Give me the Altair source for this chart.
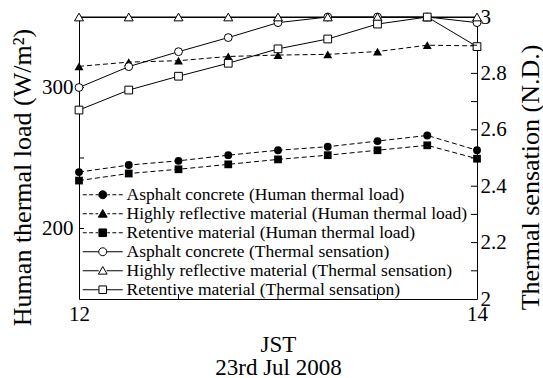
import altair as alt
import pandas as pd

# ---------------- data ----------------
times = [12.0, 12.25, 12.5, 12.75, 13.0, 13.25, 13.5, 13.75, 14.0]
materials = ["Asphalt concrete", "Highly reflective material", "Retentive material"]
marker_shapes = ["circle", "triangle-up", "square"]
marker_sizes = [62, 80, 60]

load_asphalt = [240, 245, 248, 252, 255.5, 258, 262, 266, 255.5]
load_reflective = [315, 318, 319, 322, 323, 323.5, 325.5, 330, 329.5]
load_retentive = [234, 239, 242, 245.5, 249, 252, 255.5, 259, 249.5]

sens_asphalt = [2.75, 2.824, 2.877, 2.927, 2.98, 3.0, 3.0, 3.0, 2.98]
sens_reflective = [3.0, 3.0, 3.0, 3.0, 3.0, 3.0, 3.0, 3.0, 3.0]
sens_retentive = [2.67, 2.741, 2.79, 2.836, 2.887, 2.922, 2.975, 3.0, 2.895]

x_label_values = [12, 13, 14]
left_label_values = [200, 300]
right_label_values = [2.0, 2.2, 2.4, 2.6, 2.8, 3.0]
bottom_tick_values = [12.5, 13.0, 13.5]
left_tick_values = [200, 250, 300]
right_tick_values = [2.1, 2.2, 2.3, 2.4, 2.5, 2.6, 2.7, 2.8, 2.9]

legend_labels = [
    "Asphalt concrete (Human thermal load)",
    "Highly reflective material (Human thermal load)",
    "Retentive material (Human thermal load)",
    "Asphalt concrete (Thermal sensation)",
    "Highly reflective material (Thermal sensation)",
    "Retentive material (Thermal sensation)",
]
legend_fills = ["black", "black", "black", "white", "white", "white"]
legend_strokes = ["black"] * 6

# ---------------- layout / style ----------------
W, H = 398, 282
FONT = "Liberation Serif"
TICK = 5

load_series = [load_asphalt, load_reflective, load_retentive]
sens_series = [sens_asphalt, sens_reflective, sens_retentive]

load_df = pd.DataFrame([
    {"time": t, "value": v, "material": m}
    for m, vals in zip(materials, load_series) for t, v in zip(times, vals)
])
sens_df = pd.DataFrame([
    {"time": t, "value": v, "material": m}
    for m, vals in zip(materials, sens_series) for t, v in zip(times, vals)
])

# legend symbol paths: dashed/solid line + marker (unit scale = sqrt(size)/2)
dash = "M-5,0H-4M-3.4,0H-2.4M-1.8,0H-1.15M1.15,0H1.8M2.4,0H3.4M4,0H5"
solid = "M-5,0H-1M1,0H5"
circ = "M-1,0A1,1 0 1,0 1,0A1,1 0 1,0 -1,0Z"
tri = "M0,-1.05L1.1,0.85L-1.1,0.85Z"
sq = "M-0.95,-0.95H0.95V0.95H-0.95Z"
legend_paths = [dash + circ, dash + tri, dash + sq, solid + circ, solid + tri, solid + sq]

legend_df = pd.concat([
    load_df.assign(label=load_df["material"] + " (Human thermal load)"),
    load_df.assign(label=load_df["material"] + " (Thermal sensation)"),
])

x_enc = alt.X(
    "time:Q",
    scale=alt.Scale(domain=[12, 14], nice=False, zero=False),
    axis=alt.Axis(
        values=x_label_values, format="d", labelFlush=False,
        ticks=False, tickSize=0, domain=False, labelPadding=4,
        title=["JST", "23rd Jul 2008"], titleFontSize=23, titleLineHeight=23,
        titleBaseline="top", titleX=W / 2, titleY=34,
    ),
)
y_left = alt.Y(
    "value:Q",
    scale=alt.Scale(domain=[150, 350], nice=False, zero=False),
    axis=alt.Axis(
        values=left_label_values, ticks=False, tickSize=0, domain=False,
        labelPadding=6, title="Human thermal load (W/m²)", titleFontSize=26,
        titleAngle=270, titleAlign="center", titleBaseline="middle",
        titleX=-57, titleY=160,
    ),
)
y_right = alt.Y(
    "value:Q",
    scale=alt.Scale(domain=[2, 3], nice=False, zero=False),
    axis=alt.Axis(
        orient="right", values=right_label_values, format="~g", ticks=False,
        tickSize=0, domain=False, labelPadding=3,
        title="Thermal sensation (N.D.)", titleFontSize=26,
        titleAngle=270, titleAlign="center", titleBaseline="middle",
        titleX=53, titleY=160,
    ),
)

# left group (human thermal load)
left_layers = [
    alt.Chart(load_df).mark_line(color="black", strokeWidth=1, strokeDash=[5, 3])
    .encode(x=x_enc, y=y_left, detail="material:N")
]
for m, shp, sz in zip(materials, marker_shapes, marker_sizes):
    left_layers.append(
        alt.Chart(load_df[load_df["material"] == m])
        .mark_point(shape=shp, size=sz, filled=True, color="black", opacity=1)
        .encode(x=x_enc, y=y_left)
    )
left_layers.append(
    alt.Chart(pd.DataFrame({"value": left_tick_values}))
    .mark_rule(color="black", strokeWidth=1)
    .encode(y=y_left, x=alt.value(0), x2=alt.value(TICK))
)
left_layers.append(
    alt.Chart(pd.DataFrame({"time": bottom_tick_values}))
    .mark_rule(color="black", strokeWidth=1)
    .encode(x=x_enc, y=alt.value(H), y2=alt.value(H - TICK))
)
leg = alt.Legend(
    title=None, orient="none", legendX=15, legendY=169, padding=0,
    symbolSize=64, symbolStrokeColor="black", symbolStrokeWidth=1,
    symbolOpacity=1,
    labelFont=FONT, labelFontSize=17.5, labelColor="black", labelLimit=500,
    labelOffset=15, rowPadding=0,
)
# legend-only layer: rows filtered out, entries come from the scale domain
left_layers.append(
    alt.Chart(legend_df)
    .transform_filter("false")
    .mark_point(color="black", stroke="black", strokeWidth=1, filled=False, size=64)
    .encode(
        x=x_enc, y=y_left,
        shape=alt.Shape("label:N", scale=alt.Scale(domain=legend_labels, range=legend_paths), legend=leg),
        fill=alt.Fill("label:N", scale=alt.Scale(domain=legend_labels, range=legend_fills), legend=leg),
        stroke=alt.Stroke("label:N", scale=alt.Scale(domain=legend_labels, range=legend_strokes), legend=leg),
    )
)

# right group (thermal sensation)
right_layers = [
    alt.Chart(sens_df).mark_line(color="black", strokeWidth=1)
    .encode(x=x_enc, y=y_right, detail="material:N")
]
for m, shp, sz in zip(materials, marker_shapes, marker_sizes):
    right_layers.append(
        alt.Chart(sens_df[sens_df["material"] == m])
        .mark_point(shape=shp, size=sz, filled=True, fill="white", stroke="black",
                    strokeWidth=1, opacity=1)
        .encode(x=x_enc, y=y_right)
    )
right_layers.append(
    alt.Chart(pd.DataFrame({"value": right_tick_values}))
    .mark_rule(color="black", strokeWidth=1)
    .encode(y=y_right, x=alt.value(W - TICK - 1), x2=alt.value(W))
)

chart = (
    alt.layer(alt.layer(*left_layers), alt.layer(*right_layers))
    .resolve_scale(y="independent")
    .properties(
        width=W, height=H,
        padding={"left": 79, "top": 17, "right": 66, "bottom": 79},
        autosize=alt.AutoSizeParams(type="none"),
        background="white",
    )
    .configure_view(stroke="black", strokeWidth=1)
    .configure_axis(
        labelFont=FONT, titleFont=FONT, labelFontSize=21, labelColor="black",
        titleColor="black", titleFontWeight="normal", grid=False,
    )
    .configure_legend(labelFont=FONT)
)

chart.save("out.html", embed_options={"renderer": "svg", "actions": False})
